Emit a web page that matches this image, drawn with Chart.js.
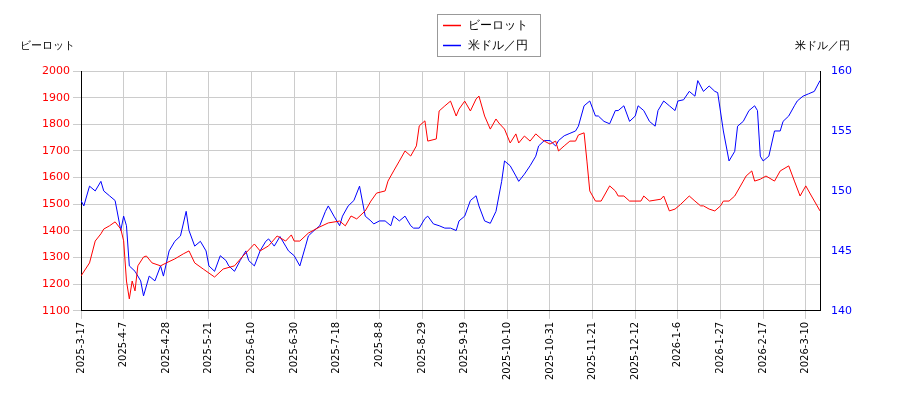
<!DOCTYPE html>
<html><head><meta charset="utf-8">
<script src="https://cdn.jsdelivr.net/npm/chart.js@4/dist/chart.umd.min.js"></script>
<style>html,body{margin:0;background:#fff}</style>
</head><body><canvas id="c" width="900" height="400"></canvas>
<script>
const tickLabels=["2025-3-17","2025-4-7","2025-4-28","2025-5-21","2025-6-10","2025-6-30","2025-7-18","2025-8-8","2025-8-29","2025-9-19","2025-10-10","2025-10-31","2025-11-21","2025-12-12","2026-1-6","2026-1-27","2026-2-17","2026-3-10"];
const redX=[0,3,5,7,8,10,12,14,15,16,17,18,19,20,22,23,25,28,30,33,36,38,40,43,47,50,54,57,61,63,66,69,72,74,75,77,80,84,87,91,93,95,97,100,102,104,107,108,110,112,114,116,118,119,121,122,125,126,128,130,132,133,135,137,139,140,142,144,146,147,149,151,153,154,156,158,160,162,163,165,167,168,170,172,174,175,177,178,179,181,183,184,186,188,189,191,193,197,198,200,204,205,207,209,211,214,216,218,219,221,223,225,226,228,230,233,234,236,237,239,241,244,246,249,251,253,255,256,257,259,260];
const redY=[1231,1280,1362,1389,1407,1419,1434,1407,1363,1212,1145,1212,1175,1269,1302,1306,1280,1269,1280,1295,1314,1325,1280,1257,1227,1257,1269,1306,1351,1325,1344,1381,1362,1385,1362,1362,1392,1415,1430,1437,1419,1456,1445,1475,1512,1542,1550,1587,1625,1662,1700,1681,1719,1794,1813,1737,1745,1850,1869,1887,1831,1857,1887,1850,1895,1906,1831,1782,1820,1805,1782,1730,1764,1730,1756,1737,1764,1745,1737,1726,1737,1700,1719,1737,1737,1760,1768,1662,1550,1512,1512,1531,1569,1550,1531,1531,1512,1512,1531,1512,1519,1531,1475,1482,1500,1531,1512,1494,1494,1482,1475,1494,1512,1512,1531,1587,1606,1625,1587,1594,1606,1587,1625,1644,1587,1531,1569,1550,1531,1494,1475];
const blueX=[0,1,3,5,7,8,10,12,14,15,16,17,19,21,22,24,26,28,29,31,33,35,37,38,40,42,44,45,47,49,51,52,54,56,58,59,61,63,65,66,68,70,72,73,75,77,79,80,82,84,86,87,89,91,92,94,96,98,100,102,103,105,107,109,110,112,114,116,117,119,121,122,124,126,128,130,132,133,135,137,139,140,142,144,146,148,149,151,153,154,156,158,160,161,163,165,167,168,170,172,174,175,177,179,181,182,184,186,188,189,191,193,195,196,198,200,202,203,205,207,209,210,212,214,216,217,219,221,223,224,226,228,230,231,233,235,237,238,239,240,242,244,246,247,249,251,252,254,256,258,260];
const blueY=[149.2,148.75,150.4,150.0,150.8,150.0,149.6,149.2,146.7,147.9,147.1,143.75,143.3,142.5,141.25,142.9,142.5,143.75,142.9,145,145.8,146.25,148.3,146.7,145.4,145.8,145,143.75,143.3,144.6,144.2,143.75,143.3,144.2,145,144.2,143.75,145,145.8,146,145.4,146.2,145.4,145,144.6,143.75,145.4,146.25,146.7,147.1,148.3,148.75,147.9,147.1,147.9,148.75,149.2,150.4,147.9,147.5,147.25,147.5,147.5,147.1,147.9,147.5,147.9,147.1,146.9,146.9,147.7,147.9,147.25,147.1,146.9,146.9,146.7,147.5,147.9,149.2,149.6,148.75,147.5,147.3,148.3,150.8,152.5,152.1,151.25,150.8,151.4,152.1,152.9,153.75,154.2,154.2,153.75,154.2,154.6,154.8,155,155.4,157.1,157.5,156.25,156.25,155.8,155.6,156.7,156.7,157.1,155.8,156.25,157.1,156.7,155.8,155.4,156.7,157.5,157.1,156.7,157.5,157.6,158.3,157.9,159.2,158.3,158.75,158.3,158.2,155,152.5,153.3,155.4,155.8,156.7,157.1,156.7,152.9,152.5,152.9,155,155,155.8,156.25,157.1,157.5,157.9,158.1,158.3,159.2];
const red=redX.map((x,i)=>({x,y:redY[i]}));
const blue=blueX.map((x,i)=>({x,y:blueY[i]}));
const F="'DejaVu Sans'";
const deco={id:'deco',afterDraw(ch){const c=ch.ctx;c.save();c.font="11px "+F;c.fillStyle='#000';c.textBaseline='middle';
c.textAlign='left';c.fillText('ビーロット',20,46);c.textAlign='right';c.fillText('米ドル／円',850,46);
c.fillStyle='#fff';c.strokeStyle='#999';c.lineWidth=1;c.fillRect(437.5,14.5,103,42);c.strokeRect(437.5,14.5,103,42);
c.font="12px "+F;c.textAlign='left';c.lineWidth=1.5;
ch.data.datasets.forEach((d,i)=>{const y=25+i*20;c.strokeStyle=d.borderColor;c.beginPath();c.moveTo(443,y+0.5);c.lineTo(461,y+0.5);c.stroke();
c.fillStyle='#000';c.fillText(d.label,468,y+1);});c.restore();}};
new Chart(document.getElementById('c'),{type:'line',plugins:[deco],
data:{datasets:[
{label:'ビーロット',data:red,borderColor:'#ff0000',borderWidth:1,pointRadius:0,yAxisID:'y',tension:0},
{label:'米ドル／円',data:blue,borderColor:'#0000ff',borderWidth:1,pointRadius:0,yAxisID:'y1',tension:0}]},
options:{responsive:false,animation:false,devicePixelRatio:1,
layout:{padding:{left:0,right:30,top:71,bottom:17}},
plugins:{legend:{display:false},tooltip:{enabled:false}},
scales:{
x:{type:'linear',min:0,max:260,afterBuildTicks:a=>{a.ticks=tickLabels.map((_,i)=>({value:i*15}));},
ticks:{callback:(v)=>tickLabels[v/15],maxRotation:90,minRotation:90,autoSkip:false,font:{family:F,size:10},color:'#000'},
grid:{color:'#cccccc'},border:{color:'#000'}},
y:{position:'left',min:1100,max:2000,afterFit:s=>{s.width=81;},ticks:{stepSize:100,callback:v=>String(v),color:'#ff0000',font:{family:F,size:11}},grid:{color:'#cccccc'},border:{color:'#000'}},
y1:{position:'right',min:140,max:160,afterFit:s=>{s.width=50;},ticks:{stepSize:5,color:'#0000ff',font:{family:F,size:11}},grid:{display:false},border:{color:'#000'}}
}}});
</script></body></html>
